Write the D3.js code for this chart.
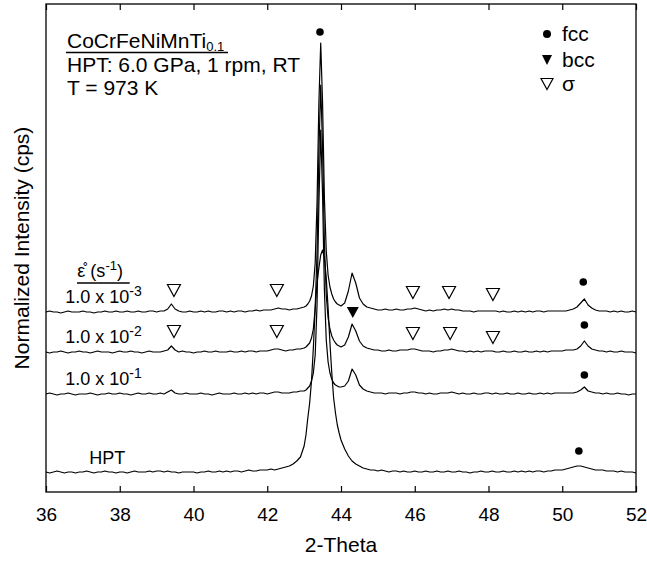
<!DOCTYPE html>
<html>
<head>
<meta charset="utf-8">
<script src="https://cdn.jsdelivr.net/npm/d3@7"></script>
<style>
body { margin: 0; background: #fff; }
svg { font-family: "Liberation Sans", Arial, Helvetica, sans-serif; }
</style>
</head>
<body>
<div id="xrd"></div>
<script>
// 2-theta sampling grid: 0.1 deg steps, 0.05 deg across the main fcc peak
const twoTheta = d3.range(360, 430).map(d => d / 10)
    .concat(d3.range(860, 880).map(d => d / 20))
    .concat(d3.range(440, 521).map(d => d / 10));

// intensities above each pattern's own baseline
const hptCounts = [
    1,0,1,2,1,0,1,1,0,1, 1,2,1,0,1,1,2,1,1,0, 1,1,0,1,2,1,1,1,2,1,
    2,2,1,2,1,1,0,1,1,1, 1,0,1,1,2,1,1,2,1,2, 1,2,2,1,2,3,2,2,3,3,
    3,4,3,4,5,6,7,9,12,16,
    27,38,55,70,92,125,165,190,205,218,223,215,195,165,130,100,75,60,48,40,
    33,24,17,12,9,7,5,4,3,3, 2,3,2,1,2,2,1,2,1,1, 2,1,1,2,1,1,2,1,1,2,
    1,1,2,1,1,0,1,1,2,1, 1,2,1,1,2,1,1,2,1,2, 1,2,1,2,2,1,2,2,3,3,
    3,4,5,6,7,7,6,5,4,3, 3,3,2,2,2,1,2,1,1,1, 0];

const rate1e1Counts = [
    1,2,1,0,1,1,2,1,0,1, 1,1,2,1,0,1,1,2,1,1, 2,1,1,0,1,2,1,1,2,1,
    1,2,1,3,5,2,1,1,2,1, 1,1,2,1,1,0,1,2,1,1, 1,2,1,1,2,1,2,1,2,2,
    1,2,3,3,2,2,2,3,3,4,
    4,5,7,9,14,22,40,90,190,265,200,105,55,33,22,16,12,10,9,8,
    8,9,14,26,20,10,6,4,3,2, 2,2,1,2,2,2,1,2,2,3, 3,2,2,1,2,1,1,2,2,2,
    3,2,1,2,1,1,2,1,1,2, 2,1,2,1,1,2,1,1,2,1, 1,2,1,1,2,1,2,1,2,2,
    2,2,2,2,3,5,8,4,3,2, 2,1,2,1,1,2,1,1,0,1, 1];

const rate1e2Counts = [
    1,0,1,1,2,1,0,1,1,2, 1,1,0,1,2,1,1,1,0,1, 2,1,1,2,1,1,0,1,2,1,
    1,1,2,3,7,3,1,2,1,1, 0,1,1,2,1,1,2,1,1,1, 2,1,1,2,1,2,2,1,2,2,
    2,3,4,4,3,2,3,3,4,4,
    5,6,8,10,15,24,45,100,200,268,205,110,58,35,24,17,13,10,8,7,
    6,8,16,29,22,12,7,5,4,3, 3,2,2,3,2,2,3,3,3,4, 4,3,2,2,2,1,2,2,3,3,
    4,3,2,2,1,2,1,2,1,2, 2,2,1,1,2,1,1,2,1,1, 2,1,1,2,1,2,1,2,2,2,
    2,3,3,3,4,7,12,7,4,3, 2,2,1,2,1,1,2,1,1,1, 0];

const rate1e3Counts = [
    1,2,1,1,0,1,2,1,1,1, 2,1,1,0,1,1,2,1,1,2, 1,1,2,1,1,2,1,1,2,2,
    1,2,2,4,9,4,2,1,1,2, 1,1,2,1,2,1,1,2,2,1, 2,1,2,2,1,2,2,3,2,3,
    3,3,4,5,4,4,3,4,4,5,
    6,7,9,12,17,27,50,110,210,270,210,115,62,38,26,19,14,11,9,8,
    7,10,22,40,30,15,9,6,5,4, 3,3,4,3,3,4,3,3,4,4, 5,4,3,2,3,2,3,3,4,3,
    4,3,3,2,2,2,1,2,2,2, 2,2,2,1,2,1,1,2,1,2, 1,2,1,2,2,1,2,2,2,2,
    2,2,3,4,6,10,14,8,5,3, 2,2,2,1,2,1,2,1,1,2, 1];

// stacking offsets (normalized intensity) and labels
const traceCounts = [hptCounts, rate1e1Counts, rate1e2Counts, rate1e3Counts];
const traceOffsets = [19, 97, 139, 179];
const traceExponents = [null, '-1', '-2', '-3'];
const labelLevels = [28, 107, 149, 189];

// phase markers: [2-theta, normalized level]
const fccMarks = [[43.43, 460], [50.57, 210], [50.6, 167], [50.6, 117], [50.45, 41]];
const bccMarks = [[44.32, 179.5]];
const sigmaMarks = [[39.47, 201.5], [42.26, 201.5], [45.95, 199.5], [46.93, 199.5], [48.12, 197.5],
                    [39.47, 160.5], [42.26, 160.5], [45.95, 158.5], [46.96, 158.5], [48.12, 154.5]];

const xTicks = [36, 38, 40, 42, 44, 46, 48, 50, 52];

const width = 647, height = 561;
const margin = {top: 4, right: 11, bottom: 69, left: 46};
const innerW = width - margin.left - margin.right;
const innerH = height - margin.top - margin.bottom;

const svg = d3.select('#xrd').append('svg')
    .attr('width', width)
    .attr('height', height);

const g = svg.append('g')
    .attr('transform', `translate(${margin.left}, ${margin.top})`);

const x = d3.scaleLinear().domain([36, 52]).range([0, innerW]);
const y = d3.scaleLinear().domain([0, 488]).range([innerH, 0]);

// axes: ticks inward, bottom labelled, top plain
g.append('g')
    .attr('transform', `translate(0, ${innerH})`)
    .call(d3.axisBottom(x).tickValues(xTicks).tickSizeInner(-6).tickSizeOuter(0).tickPadding(16))
    .call(a => a.select('.domain').remove())
    .call(a => a.selectAll('text').attr('font-size', 19).attr('font-family', 'Liberation Sans, Arial, sans-serif').attr('fill', '#000'))
    .call(a => a.selectAll('line').attr('stroke', '#000').attr('stroke-width', 1.2));

g.append('g')
    .call(d3.axisTop(x).tickValues(xTicks).tickSizeInner(-6).tickSizeOuter(0).tickFormat(''))
    .call(a => a.select('.domain').remove())
    .call(a => a.selectAll('line').attr('stroke', '#000').attr('stroke-width', 1.2));

g.append('rect')
    .attr('width', innerW)
    .attr('height', innerH)
    .attr('fill', 'none')
    .attr('stroke', '#000')
    .attr('stroke-width', 1.3);

// patterns
traceCounts.forEach(function(counts, k) {
    const line = d3.line()
        .x((d, i) => x(twoTheta[i]))
        .y(d => y(d + traceOffsets[k]));
    g.append('path')
        .datum(counts)
        .attr('d', line)
        .attr('fill', 'none')
        .attr('stroke', '#000')
        .attr('stroke-width', 1.2)
        .attr('stroke-linejoin', 'round');
});

// markers
const triDown = (w, h) => `M${-w / 2},${-h / 2}L${w / 2},${-h / 2}L0,${h / 2}Z`;

g.selectAll('.fcc')
    .data(fccMarks)
    .join('circle')
    .attr('class', 'fcc')
    .attr('cx', d => x(d[0]))
    .attr('cy', d => y(d[1]))
    .attr('r', 3.8)
    .attr('fill', '#000');

g.selectAll('.bcc')
    .data(bccMarks)
    .join('path')
    .attr('class', 'bcc')
    .attr('d', triDown(12, 11))
    .attr('transform', d => `translate(${x(d[0])}, ${y(d[1])})`)
    .attr('fill', '#000');

g.selectAll('.sigma')
    .data(sigmaMarks)
    .join('path')
    .attr('class', 'sigma')
    .attr('d', triDown(13, 12))
    .attr('transform', d => `translate(${x(d[0])}, ${y(d[1])})`)
    .attr('fill', '#fff')
    .attr('stroke', '#000')
    .attr('stroke-width', 1.2);

// trace labels
traceExponents.forEach(function(exp, k) {
    const t = g.append('text')
        .attr('x', exp ? x(36.52) : x(37.17))
        .attr('y', y(labelLevels[k]))
        .attr('font-size', 18);
    if (exp) {
        t.append('tspan').text('1.0 x 10');
        t.append('tspan').attr('dy', -7).attr('font-size', 14).text(exp);
    } else {
        t.text('HPT');
    }
});

// strain rate header
const rateHead = g.append('text')
    .attr('x', x(36.85))
    .attr('y', y(215))
    .attr('font-size', 18);
rateHead.append('tspan').text('\u03B5\u030A (s');
rateHead.append('tspan').attr('dy', -7).attr('font-size', 13).text('-1');
rateHead.append('tspan').attr('dy', 7).text(')');
g.append('line')
    .attr('x1', x(36.84)).attr('x2', x(38.27))
    .attr('y1', y(209)).attr('y2', y(209))
    .attr('stroke', '#000').attr('stroke-width', 1.6);

// composition / process block
const head = svg.append('g').attr('font-size', 21);
const l1 = head.append('text').attr('x', 67).attr('y', 48);
l1.append('tspan').text('CoCrFeNiMnTi');
l1.append('tspan').attr('dy', 3).attr('font-size', 13).text('0.1');
head.append('line')
    .attr('x1', 66).attr('x2', 228)
    .attr('y1', 52.5).attr('y2', 52.5)
    .attr('stroke', '#000').attr('stroke-width', 1.4);
head.append('text').attr('x', 67).attr('y', 72).text('HPT: 6.0 GPa, 1 rpm, RT');
head.append('text').attr('x', 67).attr('y', 95).text('T = 973 K');

// legend
const legend = svg.append('g').attr('transform', 'translate(547, 0)');
legend.append('circle').attr('cx', 0).attr('cy', 34).attr('r', 4).attr('fill', '#000');
legend.append('path').attr('d', triDown(10, 10)).attr('transform', 'translate(0, 60)').attr('fill', '#000');
legend.append('path').attr('d', triDown(12, 11)).attr('transform', 'translate(0, 84)')
    .attr('fill', '#fff').attr('stroke', '#000').attr('stroke-width', 1.2);
[['fcc', 41], ['bcc', 67], ['\u03C3', 91]].forEach(function(item) {
    legend.append('text').attr('x', 15).attr('y', item[1]).attr('font-size', 21).text(item[0]);
});

// axis titles
svg.append('text')
    .attr('x', margin.left + innerW / 2)
    .attr('y', 552)
    .attr('text-anchor', 'middle')
    .attr('font-size', 21)
    .text('2-Theta');

svg.append('text')
    .attr('transform', `translate(29, ${margin.top + innerH / 2}) rotate(-90)`)
    .attr('text-anchor', 'middle')
    .attr('font-size', 21)
    .text('Normalized Intensity (cps)');
</script>
</body>
</html>
